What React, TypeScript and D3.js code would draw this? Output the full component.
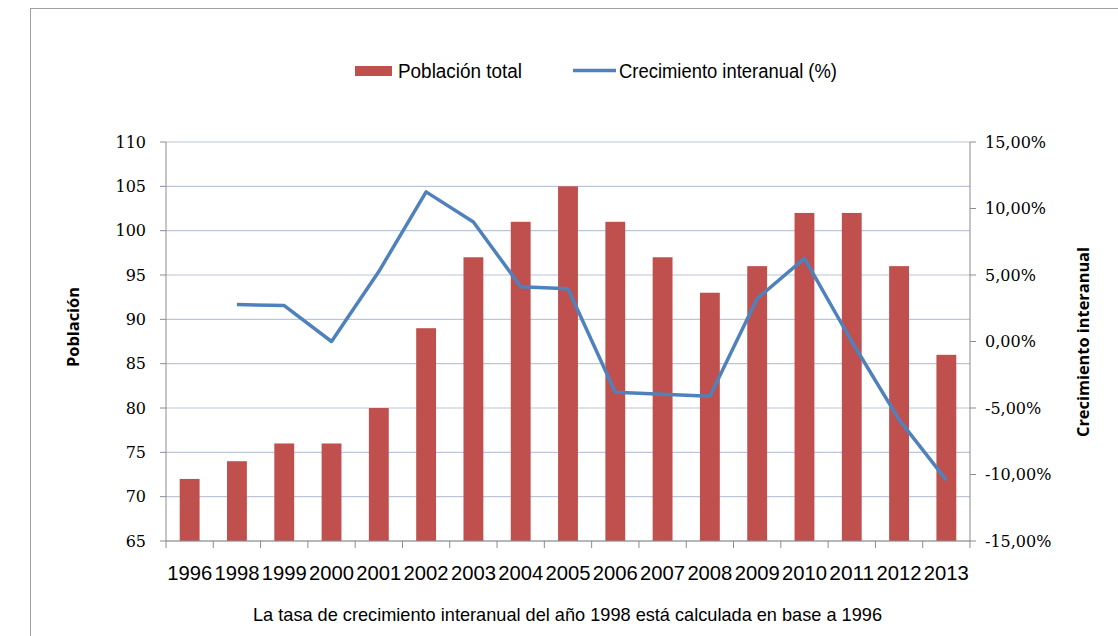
import React from "react";
import * as d3 from "d3";

const years = ["1996","1998","1999","2000","2001","2002","2003","2004","2005","2006","2007","2008","2009","2010","2011","2012","2013"];
const population = [72,74,76,76,80,89,97,101,105,101,97,93,96,102,102,96,86];
const growth: (number | null)[] = [null,2.78,2.7,0,5.26,11.25,8.99,4.12,3.96,-3.81,-3.96,-4.12,3.23,6.25,0,-5.88,-10.42];
const leftTicks = [65,70,75,80,85,90,95,100,105,110];
const rightTicks = [-15,-10,-5,0,5,10,15];

const W = 1118, H = 636;
const L = 166, R = 970, T = 142, B = 541;

export default function App() {
  const x = d3.scaleBand<string>().domain(years).range([L, R]).paddingInner(0.58).paddingOuter(0.29);
  const band = d3.scaleBand<string>().domain(years).range([L, R]);
  const yL = d3.scaleLinear().domain([65, 110]).range([B, T]);
  const yR = d3.scaleLinear().domain([-15, 15]).range([B, T]);
  const line = d3.line<number | null>()
    .defined((d) => d !== null)
    .x((_, i) => (band(years[i]) as number) + band.bandwidth() / 2)
    .y((d) => yR(d as number));
  const tickFont = "'DejaVu Serif', serif";
  const narrow = "'Liberation Sans', sans-serif";
  const boundaries = d3.range(years.length + 1).map((i) => L + i * band.step());
  const pct = (t: number) => t.toFixed(2).replace(".", ",") + "%";
  return (
    <svg width={W} height={H} style={{ position: "absolute", left: 0, top: 0, display: "block", background: "#fff" }}>
      <rect x={30.5} y={8.5} width={1200} height={700} fill="#fff" stroke="#a0a0a0" />
      {leftTicks.map((t) => (
        <line key={"g" + t} x1={L} x2={R} y1={yL(t)} y2={yL(t)} stroke="#bcc6d6" strokeWidth={1.2} />
      ))}
      {population.map((v, i) => (
        <rect key={"b" + i} x={x(years[i])} y={yL(v)} width={x.bandwidth()} height={B - yL(v)} fill="#c0504d" />
      ))}
      <path d={line(growth) || ""} fill="none" stroke="#4f81bd" strokeWidth={3.5} strokeLinejoin="round" />
      <line x1={L} x2={L} y1={T} y2={B} stroke="#8c8c8c" />
      <line x1={R} x2={R} y1={T} y2={B} stroke="#8c8c8c" />
      <line x1={L} x2={R} y1={B} y2={B} stroke="#8c8c8c" />
      {leftTicks.map((t) => (
        <g key={"l" + t}>
          <line x1={L - 6} x2={L} y1={yL(t)} y2={yL(t)} stroke="#8c8c8c" />
          <text x={146} y={yL(t)} dy="0.36em" textAnchor="end" fontFamily={tickFont} fontSize={16} fill="#000">{t}</text>
        </g>
      ))}
      {rightTicks.map((t) => (
        <g key={"r" + t}>
          <line x1={R} x2={R + 6} y1={yR(t)} y2={yR(t)} stroke="#8c8c8c" />
          <text x={985} y={yR(t)} dy="0.36em" textAnchor="start" fontFamily={tickFont} fontSize={16} fill="#000">
            {pct(t)}
          </text>
        </g>
      ))}
      {boundaries.map((bx, i) => (
        <line key={"xt" + i} x1={bx} x2={bx} y1={B} y2={B + 7} stroke="#8c8c8c" />
      ))}
      {years.map((yr) => (
        <text key={"x" + yr} x={(band(yr) as number) + band.bandwidth() / 2 - 22.5} y={580} textLength={45} lengthAdjust="spacingAndGlyphs" fontFamily={narrow} fontSize={20.5} fill="#000">{yr}</text>
      ))}
      <text x={253} y={621} textLength={629} lengthAdjust="spacingAndGlyphs" fontFamily={narrow} fontSize={19} fill="#000">La  tasa de crecimiento interanual del año 1998 está calculada en base a 1996</text>
      <text transform="translate(79,327) rotate(-90)" x={-40} textLength={80} lengthAdjust="spacingAndGlyphs" fontFamily="'Open Sans', sans-serif" fontWeight="bold" fontSize={16} fill="#000">Población</text>
      <text transform="translate(1089,342) rotate(-90)" x={-95} textLength={190} lengthAdjust="spacingAndGlyphs" fontFamily="'Open Sans', sans-serif" fontWeight="bold" fontSize={16} fill="#000">Crecimiento interanual</text>
      <rect x={355} y={66} width={37} height={10} fill="#c0504d" />
      <text x={398} y={78} textLength={124} lengthAdjust="spacingAndGlyphs" fontFamily={narrow} fontSize={20} fill="#000">Población total</text>
      <line x1={573} x2={616} y1={70.5} y2={70.5} stroke="#4f81bd" strokeWidth={3.5} />
      <text x={619} y={78} textLength={218} lengthAdjust="spacingAndGlyphs" fontFamily={narrow} fontSize={20} fill="#000">Crecimiento interanual (%)</text>
    </svg>
  );
}
